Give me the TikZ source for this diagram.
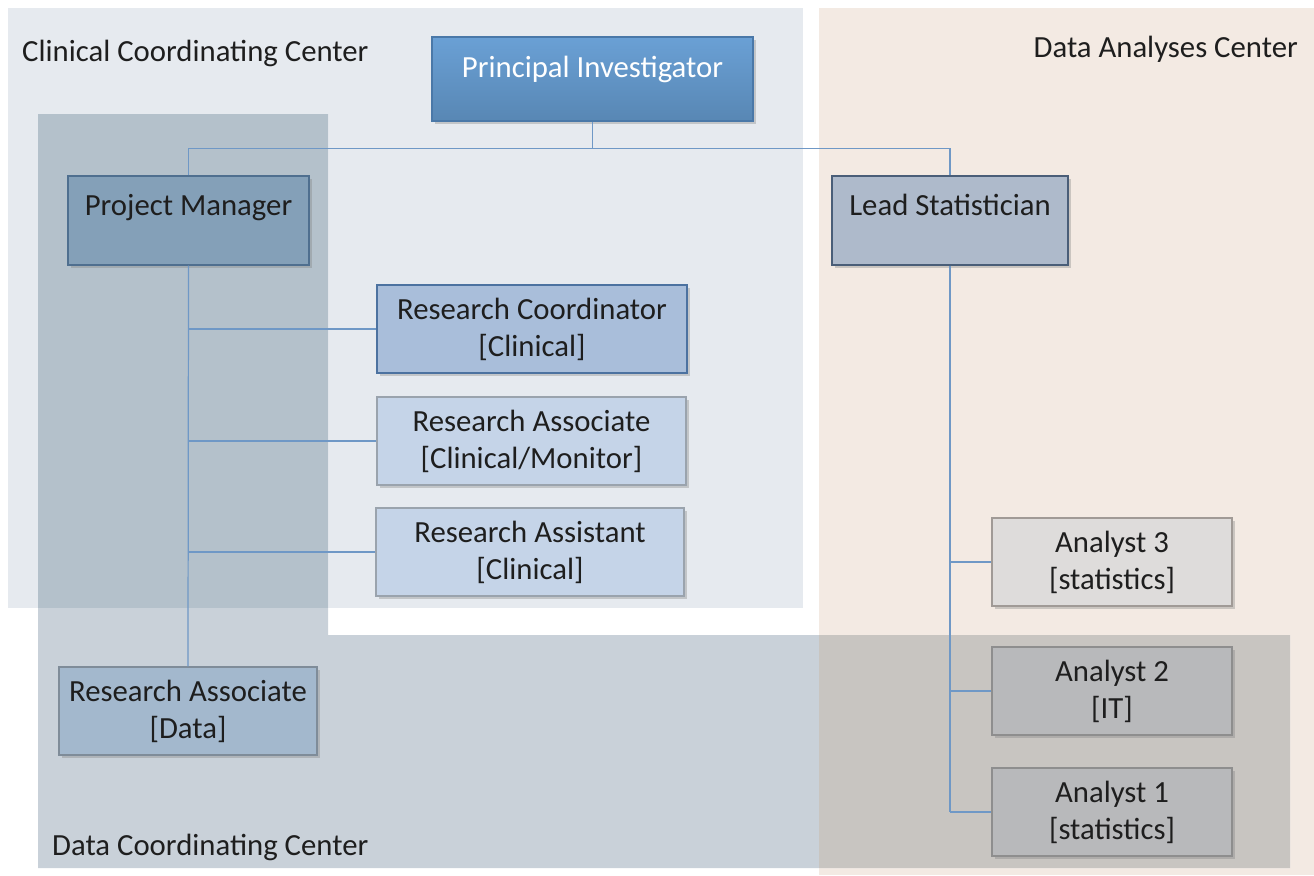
\documentclass[tikz,border=0pt]{standalone}
\usepackage{fontspec}
\setmainfont{Carlito}
\usetikzlibrary{positioning,shadows,calc}
\tikzset{>=latex}
\definecolor{cccfill}{RGB}{230,234,239}
\definecolor{dacfill}{RGB}{243,234,227}
\definecolor{dccwhite}{RGB}{201,209,217}
\definecolor{dccccc}{RGB}{180,193,203}
\definecolor{dccdac}{RGB}{200,197,193}
\definecolor{linkblue}{RGB}{111,152,198}
\definecolor{txtdark}{RGB}{30,30,30}
\definecolor{pitop}{RGB}{106,160,213}
\definecolor{pibot}{RGB}{88,135,180}
\definecolor{piedge}{RGB}{74,120,168}
\definecolor{pmfill}{RGB}{132,160,184}
\definecolor{pmedge}{RGB}{79,111,143}
\definecolor{lsfill}{RGB}{174,186,203}
\definecolor{lsedge}{RGB}{74,94,120}
\definecolor{rcfill}{RGB}{169,190,218}
\definecolor{rcedge}{RGB}{76,114,160}
\definecolor{rafill}{RGB}{197,212,232}
\definecolor{raedge}{RGB}{154,163,173}
\definecolor{rdfill}{RGB}{163,184,205}
\definecolor{rdedge}{RGB}{127,140,153}
\definecolor{anlight}{RGB}{222,220,219}
\definecolor{anledge}{RGB}{160,154,150}
\definecolor{andark}{RGB}{184,185,187}
\definecolor{andedge}{RGB}{142,142,142}

\begin{document}
\begin{tikzpicture}[x=0.02cm, y=-0.02cm,
  every node/.style={font=\fontsize{17.5}{21}\selectfont, text=txtdark},
  orgbox/.style={draw, line width=0.7pt, align=center, minimum height=1.76cm,
    drop shadow={shadow xshift=1.5pt, shadow yshift=-1.5pt, opacity=0.35}},
  link/.style={draw=linkblue, line width=0.7pt}]
\useasboundingbox (0,0) rectangle (1314,875);

% the three centres
\fill[cccfill] (8,8) rectangle (803,608);
\fill[dacfill] (819,8) rectangle (1314,875);
\fill[dccwhite] (38,114) -- (328,114) -- (328,635) -- (1290,635) -- (1290,868) -- (38,868) -- cycle;
\fill[dccccc] (38,114) rectangle (328,608);
\fill[dccdac] (819,635) rectangle (1290,868);

\node[anchor=west] (ccc) at (16,53) {Clinical Coordinating Center};
\node[anchor=east] (dac) at (1304,49) {Data Analyses Center};
\node[anchor=west] (dcc) at (46,847) {Data Coordinating Center};

% boxes
\node[orgbox, draw=piedge, top color=pitop, bottom color=pibot, text=white,
  minimum width=6.42cm, minimum height=1.68cm] (pi) at (592.5,79) {Principal Investigator\\[-7pt]\mbox{}};
\node[orgbox, draw=pmedge, fill=pmfill, minimum width=4.82cm, minimum height=1.78cm] (pm) at (188.5,220.5) {Project Manager\\[-3pt]\mbox{}};
\node[orgbox, draw=lsedge, fill=lsfill, minimum width=4.72cm, minimum height=1.78cm] (ls) at (950,220.5) {Lead Statistician\\[-3pt]\mbox{}};

\node[orgbox, draw=rcedge, fill=rcfill, minimum width=6.2cm] (rc) at (532,329) {Research Coordinator\\{}[Clinical]};
\node[orgbox, draw=raedge, fill=rafill, minimum width=6.18cm] (rac) at (531.5,441) {Research Associate\\{}[Clinical/Monitor]};
\node[orgbox, draw=raedge, fill=rafill, minimum width=6.16cm] (ras) at (530,552) {Research Assistant\\{}[Clinical]};
\node[orgbox, draw=rdedge, fill=rdfill, minimum width=5.16cm] (rad) at (188,711) {Research Associate\\{}[Data]};

\node[orgbox, draw=anledge, fill=anlight, minimum width=4.8cm] (an3) at (1112,562) {Analyst 3\\{}[statistics]};
\node[orgbox, draw=andedge, fill=andark, minimum width=4.8cm] (an2) at (1112,691) {Analyst 2\\{}[IT]};
\node[orgbox, draw=andedge, fill=andark, minimum width=4.8cm] (an1) at (1112,812) {Analyst 1\\{}[statistics]};

% connectors
\coordinate (bus) at ($(pi.south)+(0,27)$);
\draw[link] (pi.south) -- (bus);
\draw[link] (pm.north) |- (bus) -| (ls.north);

\draw[link] (pm.south) -- (rad.north);
\foreach \b in {rc,rac,ras}
  \draw[link] (pm.south |- \b.west) -- (\b.west);

\draw[link] (ls.south) -- (ls.south |- an1.west);
\foreach \b in {an3,an2,an1}
  \draw[link] (ls.south |- \b.west) -- (\b.west);
\end{tikzpicture}
\end{document}
